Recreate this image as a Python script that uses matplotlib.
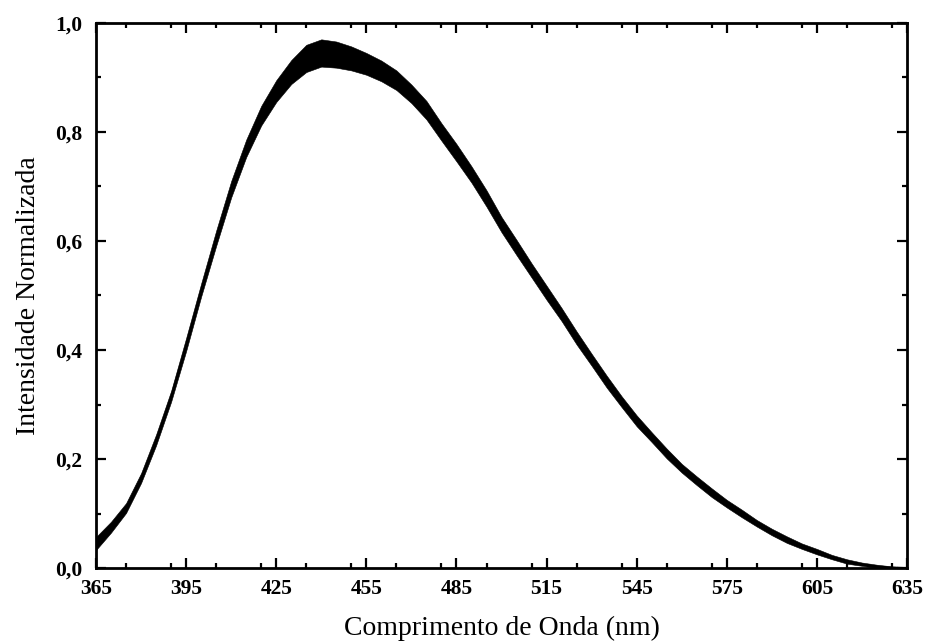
import numpy as np
import matplotlib.pyplot as plt
from matplotlib.ticker import MultipleLocator, FuncFormatter

# wavelength (nm) and normalized intensity, every 5 nm
wavelength = [365, 370, 375, 380, 385, 390, 395, 400, 405, 410,
              415, 420, 425, 430, 435, 440, 445, 450, 455, 460,
              465, 470, 475, 480, 485, 490, 495, 500, 505, 510,
              515, 520, 525, 530, 535, 540, 545, 550, 555, 560,
              565, 570, 575, 580, 585, 590, 595, 600, 605, 610,
              615, 620, 625, 630, 635]
intensity = [0.045, 0.075, 0.110, 0.165, 0.235, 0.315, 0.410, 0.510, 0.605, 0.695,
             0.770, 0.830, 0.875, 0.910, 0.935, 0.945, 0.942, 0.935, 0.925, 0.912,
             0.895, 0.870, 0.840, 0.800, 0.762, 0.722, 0.678, 0.630, 0.588, 0.546,
             0.505, 0.465, 0.422, 0.382, 0.342, 0.305, 0.270, 0.240, 0.210, 0.183,
             0.160, 0.138, 0.118, 0.100, 0.082, 0.066, 0.052, 0.040, 0.030, 0.020,
             0.012, 0.007, 0.003, 0.001, 0.000]
# half-width of the noise band around the trace
noise = [0.012, 0.010, 0.009, 0.009, 0.010, 0.010, 0.012, 0.012, 0.014, 0.015,
         0.016, 0.018, 0.020, 0.022, 0.025, 0.025, 0.024, 0.022, 0.020, 0.019,
         0.018, 0.017, 0.017, 0.016, 0.016, 0.015, 0.015, 0.014, 0.014, 0.013,
         0.013, 0.012, 0.012, 0.011, 0.011, 0.010, 0.010, 0.009, 0.009, 0.008,
         0.008, 0.008, 0.007, 0.007, 0.006, 0.006, 0.006, 0.005, 0.005, 0.004,
         0.004, 0.003, 0.003, 0.002, 0.002]

xticks = [365, 395, 425, 455, 485, 515, 545, 575, 605, 635]

plt.rcParams['font.family'] = ['Liberation Serif', 'DejaVu Serif']

wl = np.array(wavelength)
y = np.array(intensity)
dy = np.array(noise)

fig = plt.figure(figsize=(9.25, 6.44), dpi=100)
ax = fig.add_axes([0.1038, 0.118, 0.8768, 0.8463])

ax.fill_between(wl, np.clip(y - dy, 0, None), y + dy, color='black', lw=0.4)
ax.plot(wl, y, color='black', lw=1)

ax.set_xlim(365, 635)
ax.set_ylim(0, 1.0)
ax.set_xticks(xticks)
ax.xaxis.set_minor_locator(MultipleLocator(15))
ax.yaxis.set_major_locator(MultipleLocator(0.2))
ax.yaxis.set_minor_locator(MultipleLocator(0.1))
ax.yaxis.set_major_formatter(FuncFormatter(lambda v, p: f'{v:.1f}'.replace('.', ',')))

ax.tick_params(which='both', direction='in', top=True, right=True, width=1.6)
ax.tick_params(which='major', length=7)
ax.tick_params(which='minor', length=3.5)
ax.tick_params(axis='x', pad=8)
ax.tick_params(axis='y', pad=10)
for lab in ax.get_xticklabels() + ax.get_yticklabels():
    lab.set_fontsize(15.5)
    lab.set_fontweight('bold')
for s in ax.spines.values():
    s.set_linewidth(2)

ax.set_xlabel('Comprimento de Onda (nm)', fontsize=20, labelpad=12)
ax.set_ylabel('Intensidade Normalizada', fontsize=20, labelpad=10)

fig.savefig('out.png', dpi=100)
